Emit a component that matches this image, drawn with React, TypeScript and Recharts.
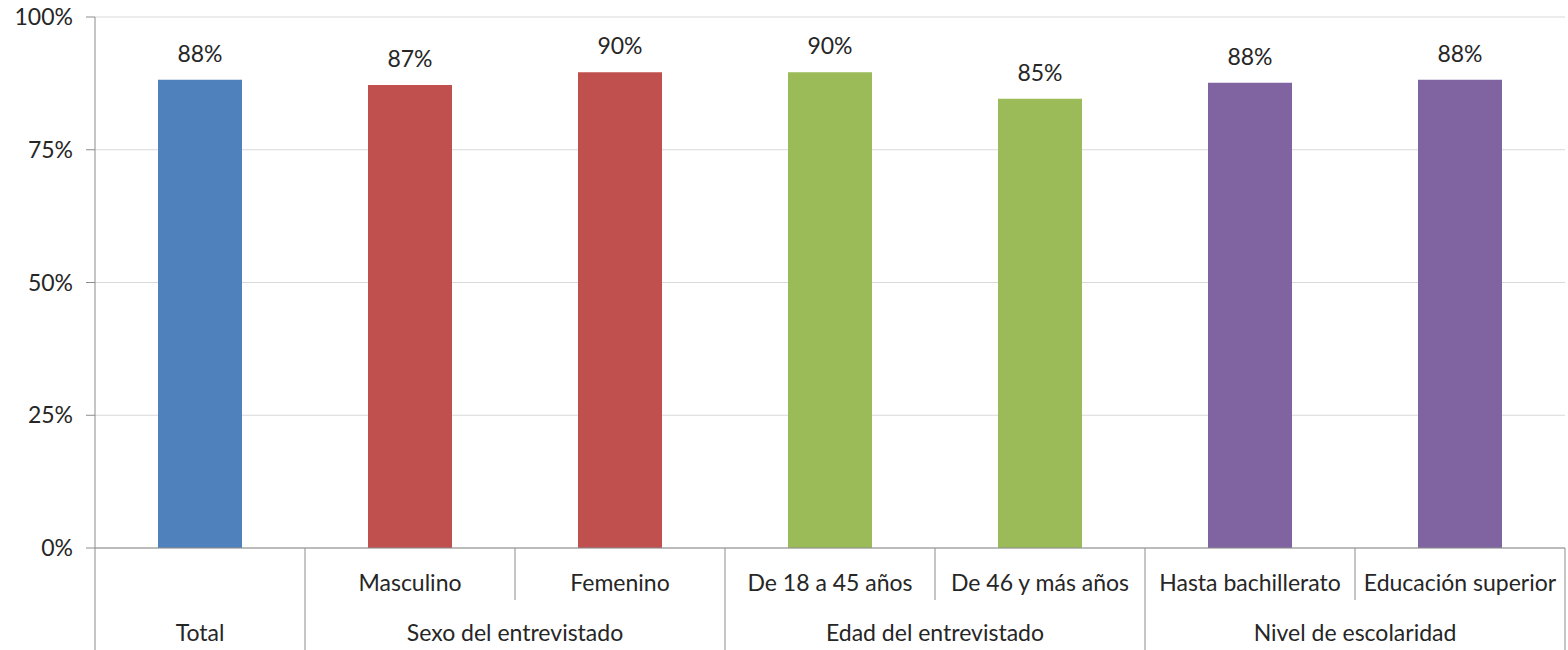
import { BarChart, Bar, XAxis, YAxis, CartesianGrid, Cell, LabelList } from "recharts";

const categories = [
  "Total",
  "Masculino",
  "Femenino",
  "De 18 a 45 años",
  "De 46 y más años",
  "Hasta bachillerato",
  "Educación superior",
];
const groups = [
  "Total",
  "Sexo del entrevistado",
  "Sexo del entrevistado",
  "Edad del entrevistado",
  "Edad del entrevistado",
  "Nivel de escolaridad",
  "Nivel de escolaridad",
];
const values = [0.882, 0.872, 0.896, 0.896, 0.846, 0.876, 0.882];
const colors = ["#4F81BD", "#C0504D", "#C0504D", "#9BBB59", "#9BBB59", "#8064A2", "#8064A2"];
const yTicks = [0, 0.25, 0.5, 0.75, 1];

const data = categories.map((name, i) => ({
  name,
  group: groups[i],
  value: values[i],
  color: colors[i],
}));

const W = 1568;
const H = 650;
const PLOT_LEFT = 95;
const PLOT_RIGHT = 1565;
const FONT = "Lato, 'Open Sans', sans-serif";
const FS = 23;
const TEXT = "#262626";
const LINE = "#8c8c8c";
const band = (PLOT_RIGHT - PLOT_LEFT) / categories.length;

function MultiTick(props: any) {
  const { x, y, payload } = props;
  const i = payload.index;
  const left = x - band / 2;
  const isGroupStart = i === 0 || groups[i] !== groups[i - 1];
  const isLast = i === categories.length - 1;
  let span = 1;
  while (i + span < groups.length && groups[i + span] === groups[i]) span++;
  const sub = groups[i] === categories[i] ? "" : categories[i];
  return (
    <g>
      <line
        x1={left}
        x2={left}
        y1={y}
        y2={isGroupStart ? H : y + 52}
        stroke={LINE}
        strokeWidth={1}
      />
      {isLast && <line x1={x + band / 2} x2={x + band / 2} y1={y} y2={H} stroke={LINE} />}
      {sub && (
        <text x={x} y={y + 43} textAnchor="middle" fill={TEXT} fontSize={FS} fontFamily={FONT}>
          {sub}
        </text>
      )}
      {isGroupStart && (
        <text
          x={left + (span * band) / 2}
          y={y + 93}
          textAnchor="middle"
          fill={TEXT}
          fontSize={FS}
          fontFamily={FONT}
        >
          {groups[i]}
        </text>
      )}
    </g>
  );
}

export default function App() {
  return (
    <div style={{ position: "absolute", left: 0, top: 0, width: W, height: H, background: "#fff" }}>
      <BarChart
        width={W}
        height={H}
        data={data}
        margin={{ top: 17, right: W - PLOT_RIGHT, bottom: 0, left: 0 }}
      >
        <CartesianGrid vertical={false} stroke="#d9d9d9" />
        <XAxis
          dataKey="name"
          height={102}
          interval={0}
          tickSize={0}
          tickMargin={0}
          tickLine={false}
          axisLine={{ stroke: LINE }}
          tick={<MultiTick />}
        />
        <YAxis
          width={PLOT_LEFT}
          domain={[0, 1]}
          ticks={yTicks}
          tickSize={9}
          tickMargin={13}
          tickLine={{ stroke: LINE }}
          axisLine={{ stroke: LINE }}
          tick={{ fill: TEXT, fontSize: FS, fontFamily: FONT }}
          tickFormatter={(v: number) => `${Math.round(v * 100)}%`}
        />
        <Bar dataKey="value" barSize={84} isAnimationActive={false}>
          {data.map((d, i) => (
            <Cell key={`c-${i}`} fill={d.color} />
          ))}
          <LabelList
            dataKey="value"
            position="top"
            offset={18}
            fill={TEXT}
            fontSize={FS}
            fontFamily={FONT}
            formatter={(v: any) => `${Math.round(Number(v) * 100)}%`}
          />
        </Bar>
      </BarChart>
    </div>
  );
}
